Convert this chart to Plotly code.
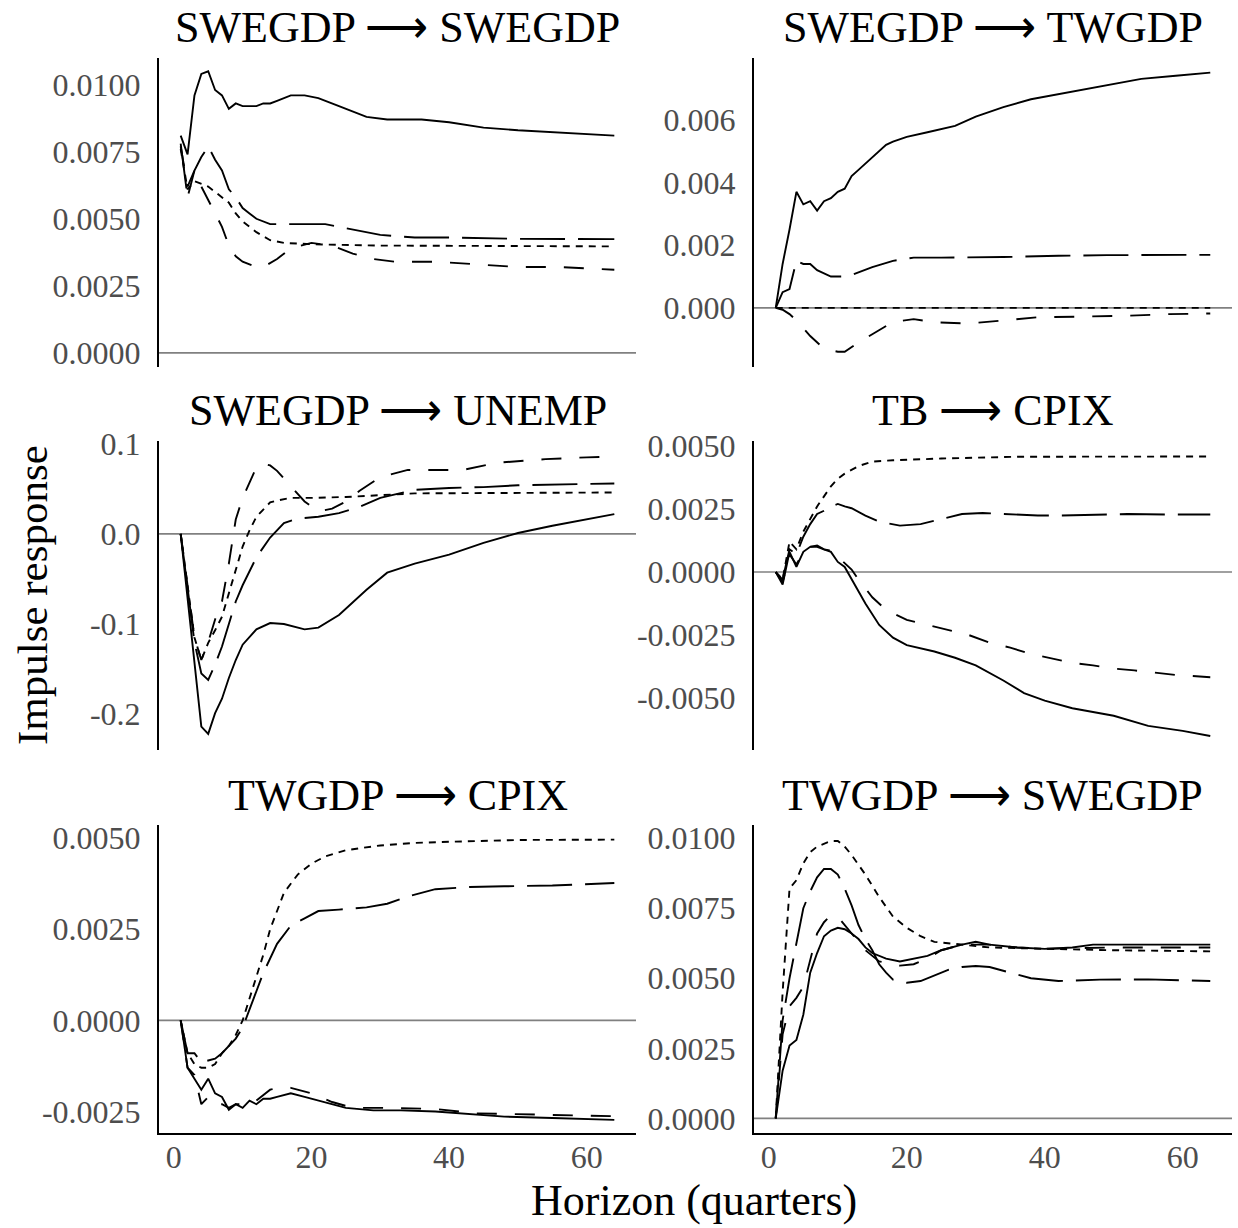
import plotly.graph_objects as go

W, H = 1238, 1228

# ---------------- data: (horizon, response) pairs ----------------
# Panel 1: SWEGDP -> SWEGDP
p1_solid = [(1,.0081),(2,.0074),(3,.0096),(4,.0104),(5,.0105),(6,.0098),(7,.0096),(8,.0091),(9,.0093),(10,.0092),(11,.0092),(12,.0092),(13,.0093),(14,.0093),(15,.0094),(17,.0096),(19,.0096),(21,.0095),(24,.0092),(28,.0088),(31,.0087),(36,.0087),(40,.0086),(45,.0084),(50,.0083),(57,.0082),(64,.0081)]
p1_longdash = [(1,.0078),(2,.0058),(3,.0068),(4,.0073),(5,.0077),(6,.0072),(7,.0068),(8,.0061),(9,.0058),(10,.0054),(11,.0052),(12,.0050),(14,.0048),(18,.0048),(20,.0048),(22,.0048),(24,.0047),(28,.0045),(30,.0044),(35,.0043),(40,.0043),(50,.00425),(64,.00424)]
p1_dashed = [(1,.0077),(2,.0062),(3,.0068),(4,.0062),(5,.0057),(6,.0052),(7,.0047),(8,.0040),(9,.0036),(10,.0034),(11,.0033),(12,.0032),(13,.0032),(15,.0035),(17,.0039),(20,.0041),(23,.0040),(26,.0037),(29,.0035),(32,.0034),(38,.0034),(44,.0033),(50,.0032),(56,.0032),(64,.0031)]
p1_dotted = [(1,.0076),(2,.0061),(3,.0064),(4,.0063),(5,.0062),(6,.0060),(7,.0058),(8,.0056),(9,.0052),(10,.0049),(12,.0045),(14,.0042),(16,.0041),(20,.00405),(30,.0040),(64,.00397)]

# Panel 2: SWEGDP -> TWGDP
p2_solid = [(1,0),(2,.0014),(3,.0025),(4,.0037),(5,.0033),(6,.0034),(7,.0031),(8,.0034),(9,.0035),(10,.0037),(11,.0038),(12,.0042),(13,.0044),(14,.0046),(15,.0048),(16,.0050),(17,.0052),(18,.0053),(20,.00545),(23,.0056),(27,.0058),(30,.0061),(34,.0064),(38,.00665),(44,.0069),(49,.0071),(54,.0073),(59,.0074),(64,.0075)]
p2_longdash = [(1,0),(2,.0005),(3,.0006),(4,.0015),(5,.0014),(6,.0014),(7,.0012),(8,.0011),(9,.0010),(10,.0010),(11,.0010),(12,.00105),(15,.0013),(18,.0015),(21,.0016),(25,.0016),(30,.0016),(34,.00162),(42,.00166),(49,.00168),(64,.00169)]
p2_dashed = [(1,0),(2,-.00006),(3,-.0002),(4,-.0004),(6,-.0009),(8,-.0013),(10,-.0014),(11,-.0014),(13,-.0011),(16,-.0007),(18,-.00045),(21,-.00036),(24,-.00046),(29,-.0005),(34,-.0004),(39,-.0003),(45,-.00028),(52,-.00025),(58,-.0002),(64,-.00018)]
p2_dotted = [(1,0),(8,0.0),(16,0.0),(32,0.0),(48,0.0),(64,0.0)]

# Panel 3: SWEGDP -> UNEMP
p3_solid = [(1,0),(2,-.07),(3,-.145),(4,-.214),(5,-.222),(6,-.199),(7,-.183),(8,-.16),(9,-.14),(10,-.123),(12,-.106),(14,-.099),(16,-.100),(19,-.106),(21,-.104),(24,-.09),(28,-.062),(31,-.043),(35,-.033),(40,-.023),(45,-.010),(50,.001),(55,.009),(60,.016),(64,.022)]
p3_longdash = [(1,0),(2,-.06),(3,-.12),(4,-.155),(5,-.162),(6,-.145),(7,-.125),(8,-.1),(9,-.075),(10,-.057),(12,-.026),(14,-.004),(16,.012),(18,.017),(21,.019),(24,.023),(27,.030),(30,.040),(35,.049),(40,.051),(45,.052),(50,.054),(57,.055),(64,.056)]
p3_dashed = [(1,0),(2,-.06),(3,-.115),(4,-.14),(5,-.12),(6,-.095),(7,-.075),(8,-.033),(9,.016),(10,.04),(11,.058),(12,.074),(13,.078),(14,.076),(15,.070),(17,.053),(19,.036),(21,.025),(23,.028),(25,.036),(27,.048),(30,.063),(34,.071),(38,.071),(42,.071),(47,.079),(54,.083),(60,.085),(64,.086)]
p3_dotted = [(1,0),(2,-.06),(3,-.115),(4,-.14),(5,-.121),(6,-.107),(7,-.092),(8,-.066),(9,-.04),(10,-.014),(11,.004),(12,.019),(13,.027),(14,.035),(15,.037),(17,.040),(20,.040),(25,.041),(30,.043),(35,.045),(64,.046)]

# Panel 4: TB -> CPIX
p4_solid = [(1,0),(2,-.0005),(3,.0008),(4,.0002),(5,.0008),(6,.0010),(7,.00105),(8,.0009),(9,.0008),(10,.0004),(11,.0002),(12,-.0003),(14,-.00125),(16,-.0021),(18,-.0026),(20,-.0029),(24,-.00315),(27,-.0034),(30,-.0037),(34,-.0043),(37,-.0048),(40,-.0051),(44,-.0054),(50,-.0057),(55,-.0061),(60,-.0063),(64,-.0065)]
p4_longdash = [(1,0),(2,-.0003),(3,.0009),(4,.0007),(5,.0014),(6,.0019),(7,.0023),(8,.00243),(9,.0026),(10,.0027),(11,.0026),(12,.00253),(14,.00224),(16,.0020),(19,.00184),(22,.0019),(25,.0021),(28,.0023),(31,.00234),(35,.0023),(39,.00224),(42,.00224),(47,.00228),(52,.0023),(58,.00228),(64,.00228)]
p4_dashed = [(1,0),(2,-.0004),(3,.0007),(4,.0003),(5,.0008),(6,.0010),(7,.0010),(8,.0009),(9,.00085),(10,.0006),(12,.0001),(13,-.0003),(15,-.0010),(17,-.0015),(20,-.0019),(23,-.0021),(26,-.0023),(29,-.0025),(32,-.0028),(35,-.0030),(38,-.00325),(41,-.00343),(44,-.0036),(47,-.0037),(50,-.00383),(53,-.0039),(56,-.0040),(59,-.00408),(64,-.00417)]
p4_dotted = [(1,0),(2,-.0003),(3,.0012),(4,.0009),(5,.0016),(6,.0021),(7,.0026),(8,.0030),(9,.0034),(10,.0037),(11,.0039),(13,.0042),(15,.00438),(18,.00443),(25,.0045),(36,.00457),(47,.00458),(64,.00458)]

# Panel 5: TWGDP -> CPIX
p5_solid = [(1,0),(2,-.0013),(3,-.0016),(4,-.0019),(5,-.0016),(6,-.0020),(7,-.0021),(8,-.00245),(9,-.0023),(10,-.0024),(11,-.0022),(12,-.0023),(13,-.00215),(14,-.00215),(15,-.0021),(17,-.0020),(19,-.0021),(22,-.00225),(25,-.0024),(29,-.00247),(33,-.00247),(38,-.0025),(43,-.00258),(48,-.00264),(55,-.00268),(64,-.00273)]
p5_longdash = [(1,0),(2,-.0009),(3,-.0009),(4,-.00115),(5,-.0011),(6,-.00105),(7,-.0009),(8,-.0007),(9,-.0005),(10,-.0002),(12,.0008),(13,.0013),(15,.0021),(17,.0026),(19,.0028),(21,.0030),(24,.00304),(28,.0031),(31,.0032),(34,.0034),(38,.0036),(43,.00366),(48,.00368),(55,.0037),(64,.00377)]
p5_dashed = [(1,0),(2,-.0013),(3,-.0015),(4,-.0023),(5,-.0021),(6,-.0023),(7,-.0023),(8,-.0024),(9,-.0023),(10,-.0023),(11,-.0022),(12,-.0022),(14,-.0019),(16,-.00183),(17,-.00185),(20,-.0020),(23,-.00224),(26,-.0024),(31,-.0024),(38,-.00243),(44,-.00255),(50,-.00258),(57,-.00261),(64,-.00263)]
p5_dotted = [(1,0),(2,-.0009),(3,-.0012),(4,-.0013),(5,-.0013),(6,-.0012),(7,-.0009),(8,-.0007),(9,-.0004),(10,0),(11,.0006),(12,.0012),(13,.0018),(14,.0025),(15,.0030),(16,.0035),(18,.0040),(20,.0043),(22,.0045),(25,.00467),(30,.0048),(35,.00487),(40,.0049),(50,.00495),(64,.00496)]

# Panel 6: TWGDP -> SWEGDP
p6_solid = [(1,0),(2,.0017),(3,.0026),(4,.0028),(5,.0037),(6,.0052),(7,.0059),(8,.0065),(9,.0067),(10,.0068),(11,.00675),(12,.0066),(13,.0064),(14,.0061),(15,.0059),(17,.0057),(19,.0056),(21,.0057),(23,.0058),(25,.0060),(28,.0062),(30,.0063),(32,.0062),(36,.0061),(40,.00605),(44,.0061),(47,.0062),(52,.0062),(58,.0062),(64,.0062)]
p6_longdash = [(1,0),(2,.0035),(3,.0050),(4,.0062),(5,.0075),(6,.0081),(7,.0086),(8,.0089),(9,.0089),(10,.0087),(11,.0082),(12,.0076),(13,.0069),(14,.0064),(15,.0060),(16,.0055),(17,.0052),(18,.00495),(20,.00484),(22,.0049),(24,.0051),(26,.0053),(28,.0054),(30,.00544),(32,.0054),(35,.0052),(38,.0050),(42,.0049),(48,.00495),(55,.00496),(64,.0049)]
p6_dashed = [(1,0),(2,.0030),(3,.0040),(4,.0043),(5,.0047),(6,.0056),(7,.0066),(8,.0070),(9,.00725),(10,.0072),(11,.0069),(12,.0066),(13,.0063),(14,.0060),(16,.0056),(19,.00545),(21,.0055),(23,.0057),(25,.006),(28,.0062),(32,.0062),(36,.0061),(40,.00605),(50,.0061),(64,.0061)]
p6_dotted = [(1,0),(2,.0045),(3,.0082),(4,.0085),(5,.0091),(6,.0095),(7,.0097),(8,.0098),(9,.0099),(10,.0099),(11,.0097),(12,.0094),(14,.0087),(16,.0079),(18,.0072),(20,.0068),(22,.0065),(24,.0063),(28,.0062),(32,.0061),(40,.00605),(50,.0060),(64,.00596)]

panel_titles = ["SWEGDP ⟶ SWEGDP", "SWEGDP ⟶ TWGDP", "SWEGDP ⟶ UNEMP",
                "TB ⟶ CPIX", "TWGDP ⟶ CPIX", "TWGDP ⟶ SWEGDP"]

ytick_vals = [
    [0, .0025, .005, .0075, .01],
    [0, .002, .004, .006],
    [-.2, -.1, 0, .1],
    [-.005, -.0025, 0, .0025, .005],
    [-.0025, 0, .0025, .005],
    [0, .0025, .005, .0075, .01],
]
ytick_text = [
    ["0.0000", "0.0025", "0.0050", "0.0075", "0.0100"],
    ["0.000", "0.002", "0.004", "0.006"],
    ["-0.2", "-0.1", "0.0", "0.1"],
    ["-0.0050", "-0.0025", "0.0000", "0.0025", "0.0050"],
    ["-0.0025", "0.0000", "0.0025", "0.0050"],
    ["0.0000", "0.0025", "0.0050", "0.0075", "0.0100"],
]
xtick_vals = [0, 20, 40, 60]
xtick_text = ["0", "20", "40", "60"]

panels = [
    [p1_solid, p1_longdash, p1_dashed, p1_dotted],
    [p2_solid, p2_longdash, p2_dashed, p2_dotted],
    [p3_solid, p3_longdash, p3_dashed, p3_dotted],
    [p4_solid, p4_longdash, p4_dashed, p4_dotted],
    [p5_solid, p5_longdash, p5_dashed, p5_dotted],
    [p6_solid, p6_longdash, p6_dashed, p6_dotted],
]

# ---------------- styling / layout ----------------
FONT = "Liberation Serif"
dashes = ["solid", "45px,13px", "20px,18px", "7px,6px"]

# panel extents (target picture pixels)
col_px = [(159, 636), (754, 1232)]
row_px = [(58, 367), (441, 750), (825, 1133)]
y_ranges = [
    [-0.00052, 0.01101],
    [-0.00188, 0.00798],
    [-0.240, 0.1033],
    [-0.00706, 0.0052],
    [-0.00310, 0.005357],
    [-0.000536, 0.010464],
]
x_range = [-2.15, 67.15]

# vertical calibration between page pixels and the photographed picture
Y_SCALE, Y_SHIFT = 0.9838, 15.45


def fx(px):
    return px / W


def fy(py):
    return 1 - ((py - Y_SHIFT) / Y_SCALE) / H


fig = go.Figure()
layout = dict(
    width=W, height=H,
    margin=dict(l=0, r=0, t=0, b=0),
    paper_bgcolor="white", plot_bgcolor="white",
    showlegend=False,
    font=dict(family=FONT, color="black"),
)

annotations = []
shapes = []
for k in range(6):
    r, c = divmod(k, 2)
    xs = "" if k == 0 else str(k + 1)
    xd = [fx(col_px[c][0]), min(1.0, fx(col_px[c][1]))]
    yd = [fy(row_px[r][1]), fy(row_px[r][0])]
    bottom = (r == 2)
    layout["xaxis" + xs] = dict(
        domain=xd, range=x_range, anchor="y" + xs,
        showgrid=False, zeroline=False,
        showline=bottom, linecolor="black", linewidth=2,
        ticks="", tickvals=xtick_vals, ticktext=xtick_text,
        showticklabels=bottom, ticklabelstandoff=-6,
        tickfont=dict(family=FONT, size=32, color="#4d4d4d"),
    )
    layout["yaxis" + xs] = dict(
        domain=yd, range=y_ranges[k], anchor="x" + xs,
        showgrid=False, zeroline=False,
        showline=True, linecolor="black", linewidth=2,
        ticks="", tickvals=ytick_vals[k], ticktext=ytick_text[k],
        ticklabelstandoff=10,
        tickfont=dict(family=FONT, size=32, color="#4d4d4d"),
    )
    shapes.append(dict(type="line", xref="x" + xs + " domain", yref="y" + xs,
                       x0=0, x1=1, y0=0, y1=0, layer="below",
                       line=dict(color="#808080", width=1.6)))
    for series, dash in zip(panels[k], dashes):
        fig.add_trace(go.Scatter(
            x=[p[0] for p in series], y=[p[1] for p in series],
            mode="lines", xaxis="x" + xs, yaxis="y" + xs,
            line=dict(color="black", width=1.9, dash=dash),
            hoverinfo="skip",
        ))
    annotations.append(dict(
        text=panel_titles[k], xref="paper", yref="paper",
        x=(xd[0] + xd[1]) / 2, y=fy(row_px[r][0] - 30),
        xanchor="center", yanchor="middle", showarrow=False,
        font=dict(family=FONT, size=44, color="black"),
    ))

annotations.append(dict(text="Impulse response", xref="paper", yref="paper",
                        x=fx(33), y=fy(595), textangle=-90,
                        xanchor="center", yanchor="middle", showarrow=False,
                        font=dict(family=FONT, size=43, color="black")))
annotations.append(dict(text="Horizon (quarters)", xref="paper", yref="paper",
                        x=fx(694), y=fy(1200),
                        xanchor="center", yanchor="middle", showarrow=False,
                        font=dict(family=FONT, size=44, color="black")))

layout["annotations"] = annotations
layout["shapes"] = shapes
fig.update_layout(**layout)

# pin the chart to the page's top-left corner so the page is exactly the figure size
pin_js = (
    "document.body.style.margin='0';document.body.style.overflow='hidden';"
    "var gd=document.getElementById('{plot_id}');"
    "gd.style.position='absolute';gd.style.left='0px';gd.style.top='0px';"
)
fig.write_html("out.html", config={"displayModeBar": False}, post_script=pin_js)
